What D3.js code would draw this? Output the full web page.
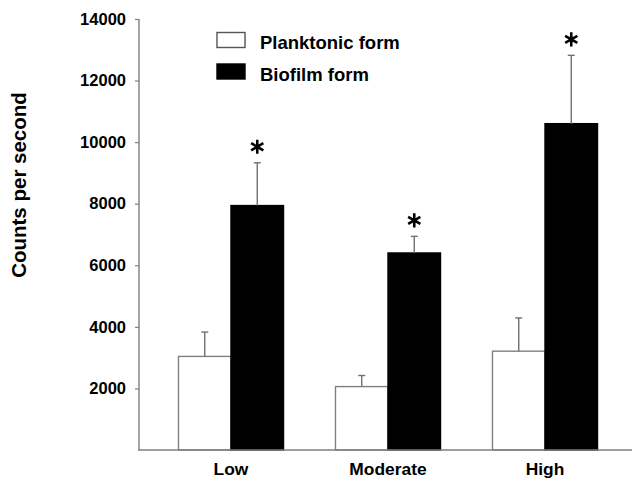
<!DOCTYPE html>
<html>
<head>
<meta charset="utf-8">
<script src="https://cdn.jsdelivr.net/npm/d3@7"></script>
<style>
  body { margin: 0; background: #fff; }
  text { font-family: Arial, "Liberation Sans", sans-serif; font-weight: bold; fill: #000; }
</style>
</head>
<body>
<svg id="chart" width="632" height="480"></svg>
<script>
// values
var categories = ['Low', 'Moderate', 'High'];
var seriesNames = ['Planktonic form', 'Biofilm form'];
var planktonic = [3040, 2060, 3210];
var planktonicErr = [790, 360, 1080];
var biofilm = [7940, 6400, 10600];
var biofilmErr = [1390, 540, 2220];
var significant = [true, true, true]; // biofilm vs planktonic
var yTicks = [2000, 4000, 6000, 8000, 10000, 12000, 14000];

var svg = d3.select('#chart');
var axisColor = '#7f7f7f';

var y = d3.scaleLinear().domain([0, 14000]).range([450, 19]);

var x0 = d3.scaleBand()
  .domain(categories)
  .range([152.5, 623.5])
  .paddingInner(0.331)
  .paddingOuter(0.1655);

var x1 = d3.scaleBand()
  .domain(seriesNames)
  .range([0, x0.bandwidth()]);

var fills = { 'Planktonic form': '#fff', 'Biofilm form': '#000' };

// one row per bar
var rows = [];
categories.forEach(function(c, i) {
  rows.push({ cat: c, series: seriesNames[0], value: planktonic[i], err: planktonicErr[i], star: false });
  rows.push({ cat: c, series: seriesNames[1], value: biofilm[i], err: biofilmErr[i], star: significant[i] });
});

// y axis
var yAxis = svg.append('g')
  .attr('transform', 'translate(139,0)')
  .call(d3.axisLeft(y).tickValues(yTicks).tickSize(4).tickSizeOuter(0).tickPadding(9).tickFormat(d3.format('d')));
yAxis.select('.domain').remove();
yAxis.selectAll('line').attr('stroke', axisColor).attr('stroke-width', 1.2);
yAxis.selectAll('text').style('font-size', '16.5px').style('font-family', 'Arial, "Liberation Sans", sans-serif').style('font-weight', 'bold');
svg.append('line')
  .attr('x1', 139).attr('x2', 139)
  .attr('y1', y(0)).attr('y2', y(14000))
  .attr('stroke', axisColor).attr('stroke-width', 1.4);

// bars
var bars = svg.append('g').selectAll('g.bar')
  .data(rows)
  .join('g')
  .attr('class', 'bar')
  .attr('transform', function(d) { return 'translate(' + (x0(d.cat) + x1(d.series)) + ',0)'; });

bars.append('rect')
  .attr('x', 0)
  .attr('y', function(d) { return y(d.value); })
  .attr('width', x1.bandwidth())
  .attr('height', function(d) { return y(0) - y(d.value); })
  .attr('fill', function(d) { return fills[d.series]; })
  .attr('stroke', function(d) { return d.series === seriesNames[0] ? axisColor : '#000'; })
  .attr('stroke-width', 1.4);

// upper error whiskers
var cx = x1.bandwidth() / 2;
bars.append('line')
  .attr('x1', cx).attr('x2', cx)
  .attr('y1', function(d) { return y(d.value); })
  .attr('y2', function(d) { return y(d.value + d.err); })
  .attr('stroke', '#707070').attr('stroke-width', 1.4);
bars.append('line')
  .attr('x1', cx - 3.5).attr('x2', cx + 3.5)
  .attr('y1', function(d) { return y(d.value + d.err); })
  .attr('y2', function(d) { return y(d.value + d.err); })
  .attr('stroke', '#707070').attr('stroke-width', 1.4);

// significance asterisks
bars.filter(function(d) { return d.star; })
  .append('path')
  .attr('transform', function(d) { return 'translate(' + cx + ',' + (y(d.value + d.err) - 16) + ')'; })
  .attr('d', d3.symbol(d3.symbolAsterisk, 140))
  .attr('fill', 'none')
  .attr('stroke', '#000')
  .attr('stroke-width', 2.6);

// x axis
var xAxis = svg.append('g')
  .attr('transform', 'translate(0,' + y(0) + ')')
  .call(d3.axisBottom(x0).tickSize(0).tickPadding(13));
xAxis.select('.domain').remove();
xAxis.selectAll('text').style('font-size', '17.4px').style('font-family', 'Arial, "Liberation Sans", sans-serif').style('font-weight', 'bold');
svg.append('line')
  .attr('x1', 138).attr('x2', 632)
  .attr('y1', y(0)).attr('y2', y(0))
  .attr('stroke', axisColor).attr('stroke-width', 1.4);

// y title
svg.append('text')
  .attr('transform', 'translate(26,185) rotate(-90)')
  .attr('text-anchor', 'middle')
  .style('font-size', '20.5px')
  .text('Counts per second');

// legend
var legend = svg.append('g').selectAll('g')
  .data(seriesNames)
  .join('g')
  .attr('transform', function(d, i) { return 'translate(217,' + (32.5 + i * 31.5) + ')'; });
legend.append('rect')
  .attr('width', 28).attr('height', 15)
  .attr('fill', function(d) { return fills[d]; })
  .attr('stroke', function(d, i) { return i === 0 ? '#555' : '#000'; })
  .attr('stroke-width', 1.4);
legend.append('text')
  .attr('x', 43).attr('y', 16.5)
  .style('font-size', '18.5px')
  .text(function(d) { return d; });
</script>
</body>
</html>
